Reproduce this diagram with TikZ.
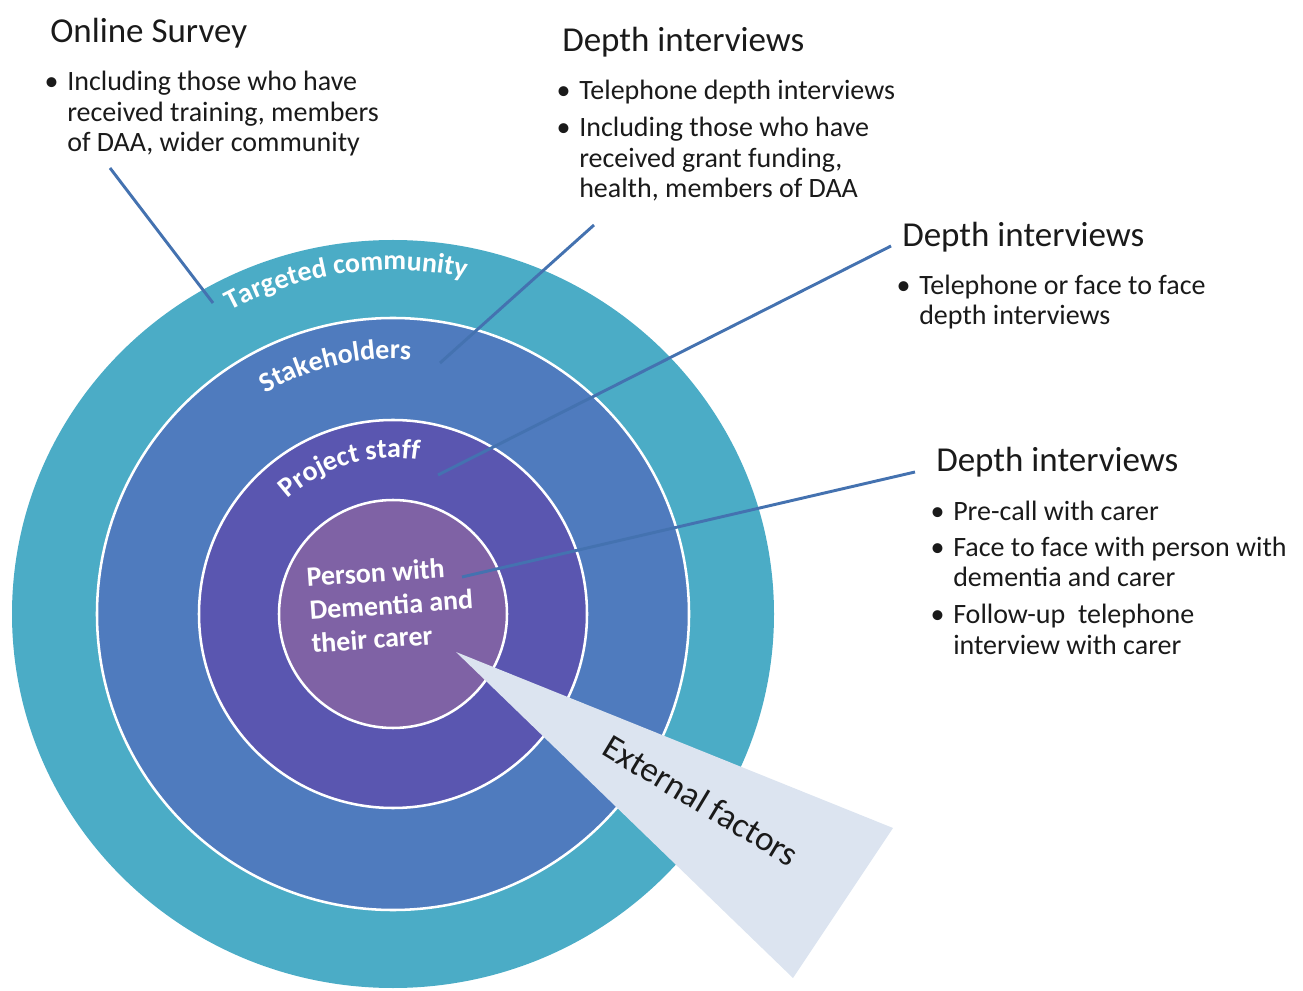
\documentclass[tikz,border=0pt]{standalone}
\usepackage{fontspec}
\setmainfont{Carlito}
\usetikzlibrary{decorations.text}
\definecolor{tealring}{HTML}{4BACC6}
\definecolor{stakering}{HTML}{4F7BBE}
\definecolor{projring}{HTML}{5A56B0}
\definecolor{innerring}{HTML}{7F62A5}
\definecolor{wedgefill}{HTML}{DCE4F0}
\definecolor{connblue}{HTML}{4472B0}
\definecolor{ink}{HTML}{1A1A1A}
\newcommand\ttlfont{\fontsize{26.25}{30}\selectfont}
\newcommand\bodyfont{\fontsize{21}{24}\selectfont}
\newcommand\ringfont{\fontsize{21}{24}\selectfont\bfseries}
\newcommand\bul{\llap{\textbullet\hspace{6.5pt}}}
\begin{document}
\begin{tikzpicture}[x=0.75pt,y=0.75pt,
  ttl/.style={anchor=base west, inner sep=0pt, text=ink, font=\ttlfont},
  txt/.style={anchor=base west, inner sep=0pt, text=ink, font=\bodyfont},
  ringline/.style={draw=white, line width=1.9pt},
  conline/.style={draw=connblue, line width=2.2pt},
  lbl/.style={anchor=base west, inner sep=0pt, text=white, font=\ringfont, rotate=4},
  arclabel/.style={decorate, decoration={text along path, text align=center, text color=white}}]
\useasboundingbox (0,0) rectangle (1303,990);
\coordinate (C) at (393,376);
% rings
\fill[tealring] (C) ellipse[x radius=381, y radius=374];
\filldraw[fill=stakering, ringline] (C) circle[radius=296];
\filldraw[fill=projring, ringline] (C) circle[radius=194];
\filldraw[fill=innerring, ringline] (C) circle[radius=114];
% ring labels
\path[shift={(393,376)}, arclabel, decoration={text={|\ringfont|Targeted community}}]
  (150:344) arc[start angle=150, end angle=46, radius=344];
\path[shift={(393,376)}, arclabel, decoration={text={|\ringfont|Stakeholders}}]
  (155:255) arc[start angle=155, end angle=51, radius=255];
\path[shift={(393,376)}, arclabel, decoration={text={|\ringfont|Project staff}}]
  (160:156) arc[start angle=160, end angle=53, radius=156];
% centre label
\node[lbl] (p1) at (307,403) {Person with};
\node[lbl] (p2) at (310,370) {Dementia and};
\node[lbl] (p3) at (312,337) {their carer};
% connectors
\coordinate (s1) at (110,822); \coordinate (e1) at (213,687);
\coordinate (s2) at (594,765); \coordinate (e2) at (440,627);
\coordinate (s3) at (891,744); \coordinate (e3) at (438,515);
\coordinate (s4) at (915,518); \coordinate (e4) at (462,413);
\draw[conline] (s1) -- (e1);
\draw[conline] (s2) -- (e2);
\draw[conline] (s3) -- (e3);
\draw[conline] (s4) -- (e4);
% wedge
\coordinate (w1) at (456,338);
\coordinate (w2) at (893,162);
\coordinate (w3) at (793,12);
\fill[wedgefill] (w1) -- (w2) -- (w3) -- cycle;
\node[rotate=-31, inner sep=0pt, text=ink, font=\ttlfont] (ext) at (701,190) {External factors};
% Online survey
\node[ttl] (t1) at (50,947) {Online Survey};
\node[txt] (a1) at (67,899) {\bul Including those who have};
\node[txt] (a2) at (67,868) {received training, members};
\node[txt] (a3) at (67,838) {of DAA, wider community};
% Depth interviews 1
\node[ttl] (t2) at (562,938) {Depth interviews};
\node[txt] (b1) at (579,890) {\bul Telephone depth interviews};
\node[txt] (b2) at (579,853) {\bul Including those who have};
\node[txt] (b3) at (579,822) {received grant funding,};
\node[txt] (b4) at (579,792) {health, members of DAA};
% Depth interviews 2
\node[ttl] (t3) at (902,743) {Depth interviews};
\node[txt] (c1) at (919,695) {\bul Telephone or face to face};
\node[txt] (c2) at (919,665) {depth interviews};
% Depth interviews 3
\node[ttl] (t4) at (936,518) {Depth interviews};
\node[txt] (d1) at (953,469) {\bul Pre-call with carer};
\node[txt] (d2) at (953,433) {\bul Face to face with person with};
\node[txt] (d3) at (953,403) {dementia and carer};
\node[txt] (d4) at (953,367) {\bul Follow-up\ \ telephone};
\node[txt] (d5) at (953,336) {interview with carer};
\end{tikzpicture}
\end{document}
